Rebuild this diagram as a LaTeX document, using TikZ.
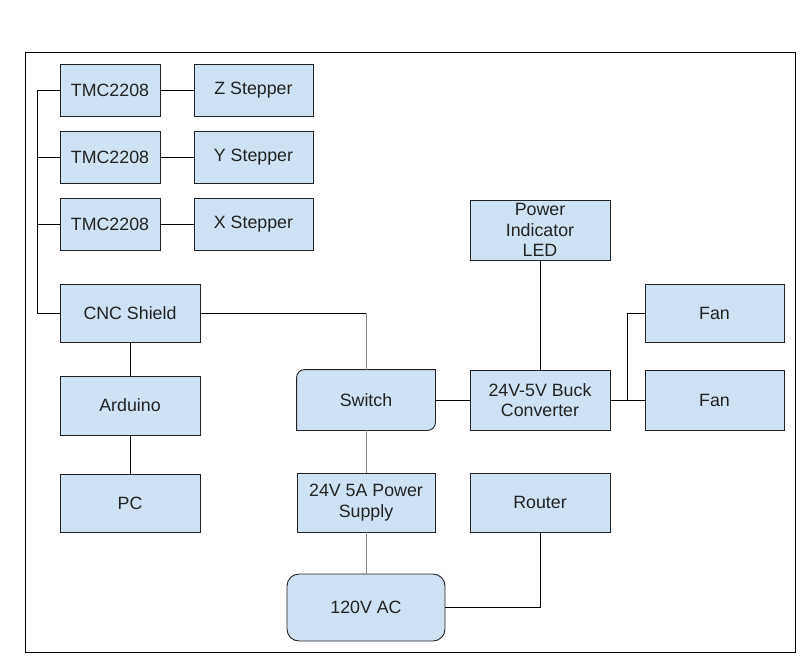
\documentclass[tikz,border=0pt]{standalone}
\usepackage{fontspec}
\setmainfont{Liberation Sans}
\definecolor{boxfill}{HTML}{CFE2F3}
\definecolor{boxline}{HTML}{222222}
\definecolor{wiregray}{HTML}{8A8A8A}
\begin{document}
\begin{tikzpicture}[
      x=1pt, y=-1pt,
      font=\fontsize{17.8}{20.5}\selectfont,
      block/.style={draw=boxline, fill=boxfill, line width=0.9pt, text=boxline,
        align=center, inner sep=0pt, minimum width=140pt, minimum height=58pt},
      ghost/.style={block, draw=none, fill=none},
      wire/.style={line width=0.9pt},
      thinwire/.style={line width=0.9pt, draw=wiregray}
    ]
      \useasboundingbox (0,0) rectangle (800,665);
      \draw[line width=1pt] (25,52) rectangle (795,652);

      % stepper drivers
      \node[block, minimum width=100pt, minimum height=52pt] (tmcz) at (110,90) {TMC2208};
      \node[block, minimum width=119pt, minimum height=52pt] (stepz) at (253.5,90) {Z Stepper};
      \node[block, minimum width=100pt, minimum height=52pt] (tmcy) at (110,157) {TMC2208};
      \node[block, minimum width=119pt, minimum height=52pt] (stepy) at (253.5,157) {Y Stepper};
      \node[block, minimum width=100pt, minimum height=52pt] (tmcx) at (110,224) {TMC2208};
      \node[block, minimum width=119pt, minimum height=52pt] (stepx) at (253.5,224) {X Stepper};

      \node[block] (cnc) at (130,313) {CNC Shield};
      \node[block, minimum height=59pt] (arduino) at (130,405.5) {Arduino};
      \node[block] (pc) at (130,503) {PC};

      % power side
      \node[block, minimum height=60pt] (led) at (540,230) {Power\\Indicator\\LED};
      \node[ghost, minimum width=138pt, minimum height=60pt] (switch) at (366,400) {};
      \filldraw[draw=boxline, fill=boxfill, line width=0.9pt]
        (switch.west) [rounded corners=8pt] |- (switch.north) [sharp corners] -| (switch.east)
        [rounded corners=8pt] |- (switch.south) [sharp corners] -| cycle;
      \node[text=boxline] at (switch) {Switch};
      \node[block, minimum height=60pt] (buck) at (540,400) {24V-5V Buck\\Converter};
      \node[block, minimum width=139pt] (fan1) at (714.5,313) {Fan};
      \node[block, minimum width=139pt, minimum height=60pt] (fan2) at (714.5,400) {Fan};
      \node[block, minimum width=138pt, minimum height=59pt] (psu) at (366,502.5) {24V 5A Power\\Supply};
      \node[block, minimum height=59pt] (router) at (540,502.5) {Router};
      \node[block, minimum width=158pt, minimum height=67pt, rounded corners=12pt] (ac) at (366,607.5) {120V AC};

      % wiring
      \coordinate (bus) at (37,90);
      \draw[wire] (tmcz.west) -- (bus) |- (cnc.west);
      \draw[wire] (tmcy.west) -- (tmcy.west -| bus);
      \draw[wire] (tmcx.west) -- (tmcx.west -| bus);
      \draw[wire] (tmcz) -- (stepz);
      \draw[wire] (tmcy) -- (stepy);
      \draw[wire] (tmcx) -- (stepx);
      \draw[wire] (cnc) -- (arduino);
      \draw[wire] (arduino) -- (pc);
      \draw[wire] (cnc.east) -- (cnc.east -| switch.north);
      \draw[thinwire] (cnc.east -| switch.north) -- (switch.north);
      \draw[thinwire] (switch.south) -- (psu.north);
      \draw[thinwire] (psu.south) -- (ac.north);
      \draw[wire] (switch.east) -- (buck.west);
      \draw[wire] (led) -- (buck);
      \draw[wire] (buck) -- (fan2);
      \draw[wire] (fan1.west) -- ++(-17,0) |- (fan2.west);
      \draw[wire] (router.south) |- (ac.east);
    \end{tikzpicture}
\end{document}
